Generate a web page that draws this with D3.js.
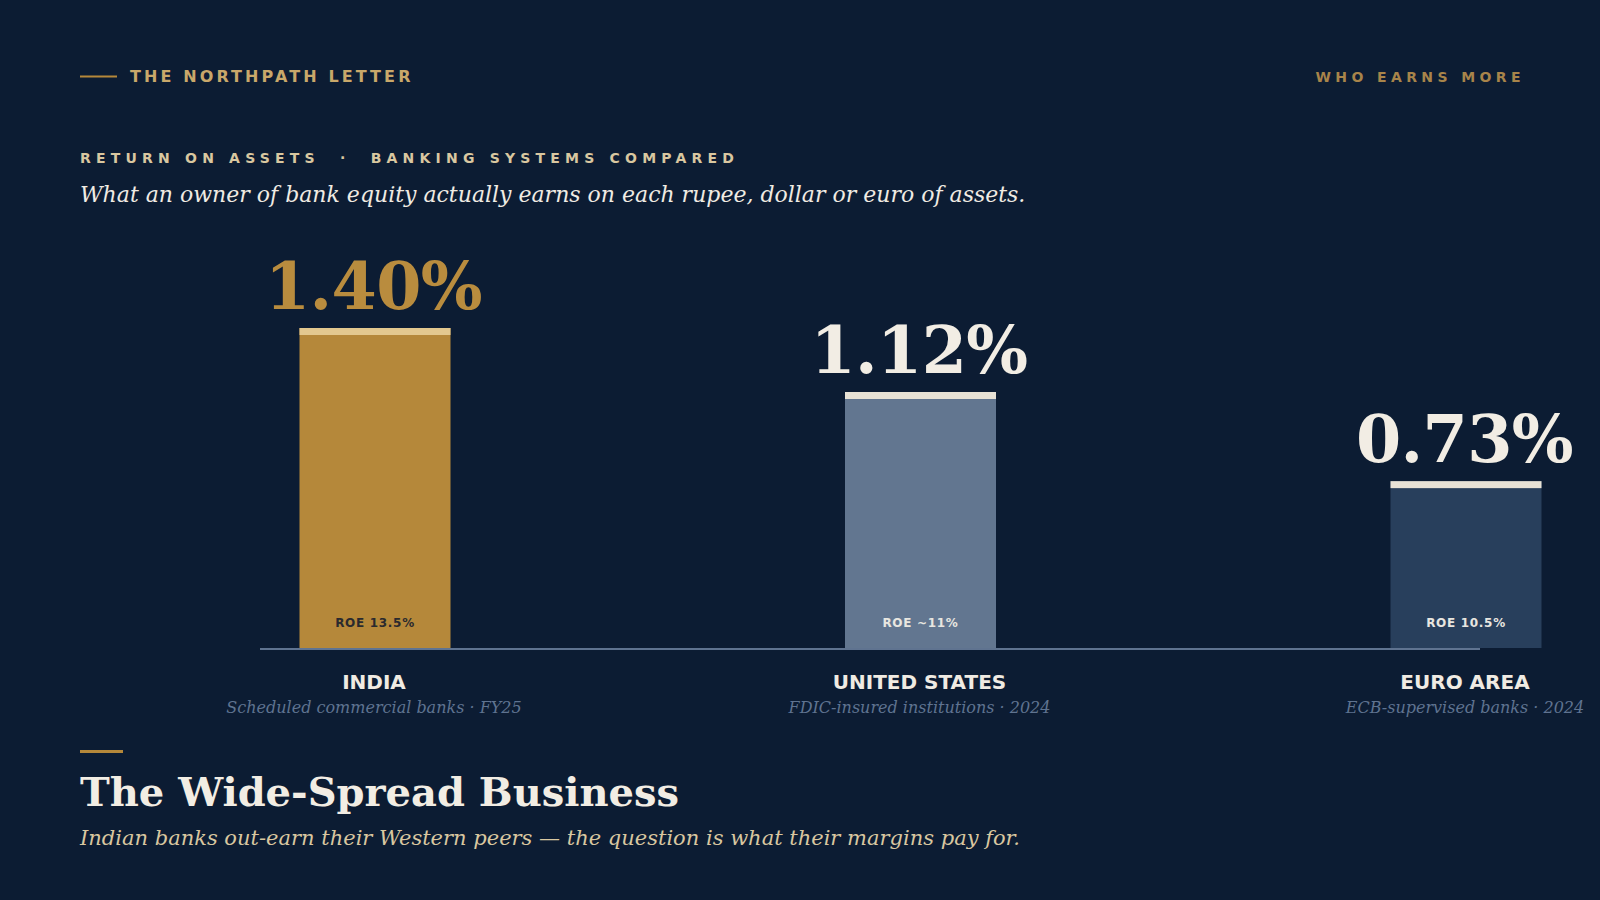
<!DOCTYPE html>
<html>
<head>
<meta charset="utf-8">
<style>
  body { margin: 0; background: #0c1c33; }
  svg { display: block; }
  .sans { font-family: "DejaVu Sans", sans-serif; }
  .serif { font-family: "DejaVu Serif", serif; }
  .pre { white-space: pre; }
</style>
<title>Return on assets</title>
</head>
<body>
<script src="https://cdn.jsdelivr.net/npm/d3@7"></script>
<script>

// data
var regions = ["INDIA", "UNITED STATES", "EURO AREA"];
var roa     = [1.40, 1.12, 0.73];
var roe     = ["ROE 13.5%", "ROE ~11%", "ROE 10.5%"];
var sources = ["Scheduled commercial banks \u00b7 FY25", "FDIC-insured institutions \u00b7 2024", "ECB-supervised banks \u00b7 2024"];

var barFill   = ["#b5883a", "#627690", "#283f5c"];
var capFill   = ["#e3c88f", "#e8e2d6", "#e8e2d6"];
var valueFill = ["#b98c3e", "#f2ede4", "#f2ede4"];
var roeFill   = ["#2a2a2e", "#e8e6e0", "#e8e6e0"];

var W = 1600, H = 900;
var svg = d3.select("body").append("svg")
    .attr("width", W)
    .attr("height", H);

svg.append("rect").attr("width", W).attr("height", H).attr("fill", "#0c1c33");

// header
svg.append("line")
    .attr("x1", 80).attr("x2", 117).attr("y1", 76.5).attr("y2", 76.5)
    .attr("stroke", "#b5883a").attr("stroke-width", 2);
svg.append("text").attr("class", "sans")
    .attr("x", 130).attr("y", 82)
    .attr("font-size", 16).attr("font-weight", "bold")
    .attr("letter-spacing", 3.1)
    .attr("fill", "#c9a86a")
    .text("THE NORTHPATH LETTER");
svg.append("text").attr("class", "sans")
    .attr("x", 1525).attr("y", 82)
    .attr("text-anchor", "end")
    .attr("font-size", 14).attr("font-weight", "bold")
    .attr("letter-spacing", 4.4)
    .attr("fill", "#a8844a")
    .text("WHO EARNS MORE");

svg.append("text").attr("class", "sans pre")
    .attr("x", 80).attr("y", 163)
    .attr("font-size", 14).attr("font-weight", "bold")
    .attr("letter-spacing", 5.2)
    .attr("fill", "#d9c7a0")
    .text("RETURN ON ASSETS  \u00b7  BANKING SYSTEMS COMPARED");
svg.append("text").attr("class", "serif")
    .attr("x", 80).attr("y", 202)
    .attr("font-size", 22).attr("font-style", "italic")
    .attr("fill", "#f0ebe3")
    .text("What an owner of bank equity actually earns on each rupee, dollar or euro of assets.");

// chart
var baseY = 648;
var barW = 151;

var x = d3.scalePoint()
    .domain(regions)
    .range([375, 1466]);

var y = d3.scaleLinear()
    .domain([0, 1.40])
    .range([baseY, 328]);

var bars = svg.append("g").selectAll("g")
    .data(regions)
    .join("g");

bars.append("rect")
    .attr("x", d => x(d) - barW / 2)
    .attr("y", (d, i) => y(roa[i]))
    .attr("width", barW)
    .attr("height", (d, i) => baseY - y(roa[i]))
    .attr("fill", (d, i) => barFill[i]);

bars.append("rect")
    .attr("x", d => x(d) - barW / 2)
    .attr("y", (d, i) => y(roa[i]))
    .attr("width", barW)
    .attr("height", 7)
    .attr("fill", (d, i) => capFill[i]);

bars.append("text").attr("class", "serif")
    .attr("x", d => x(d) - 1.5)
    .attr("y", (d, i) => y(roa[i]) - 19)
    .attr("text-anchor", "middle")
    .attr("font-size", 65).attr("font-weight", "bold")
    .attr("letter-spacing", -0.6)
    .attr("fill", (d, i) => valueFill[i])
    .text((d, i) => roa[i].toFixed(2) + "%");

bars.append("text").attr("class", "sans")
    .attr("x", d => x(d))
    .attr("y", baseY - 21)
    .attr("text-anchor", "middle")
    .attr("font-size", 12).attr("font-weight", "bold")
    .attr("letter-spacing", 0.7)
    .attr("fill", (d, i) => roeFill[i])
    .text((d, i) => roe[i]);

svg.append("line")
    .attr("x1", 260).attr("x2", 1480)
    .attr("y1", baseY + 1).attr("y2", baseY + 1)
    .attr("stroke", "#5f7390").attr("stroke-width", 2);

bars.append("text").attr("class", "sans")
    .attr("x", d => x(d) - 1)
    .attr("y", 689)
    .attr("text-anchor", "middle")
    .attr("font-size", 20).attr("font-weight", "bold")
    .attr("fill", "#f0ebe3")
    .text(d => d);

bars.append("text").attr("class", "serif")
    .attr("x", d => x(d) - 1)
    .attr("y", 713)
    .attr("text-anchor", "middle")
    .attr("font-size", 16).attr("font-style", "italic")
    .attr("fill", "#5f7390")
    .text((d, i) => sources[i]);

// footer
svg.append("line")
    .attr("x1", 80).attr("x2", 123).attr("y1", 751.5).attr("y2", 751.5)
    .attr("stroke", "#b5883a").attr("stroke-width", 3);
svg.append("text").attr("class", "serif")
    .attr("x", 80).attr("y", 806)
    .attr("font-size", 40).attr("font-weight", "bold")
    .attr("fill", "#f2ede4")
    .text("The Wide-Spread Business");
svg.append("text").attr("class", "serif")
    .attr("x", 80).attr("y", 845)
    .attr("font-size", 21).attr("font-style", "italic")
    .attr("fill", "#d9c7a0")
    .text("Indian banks out-earn their Western peers \u2014 the question is what their margins pay for.");

</script>
</body>
</html>
